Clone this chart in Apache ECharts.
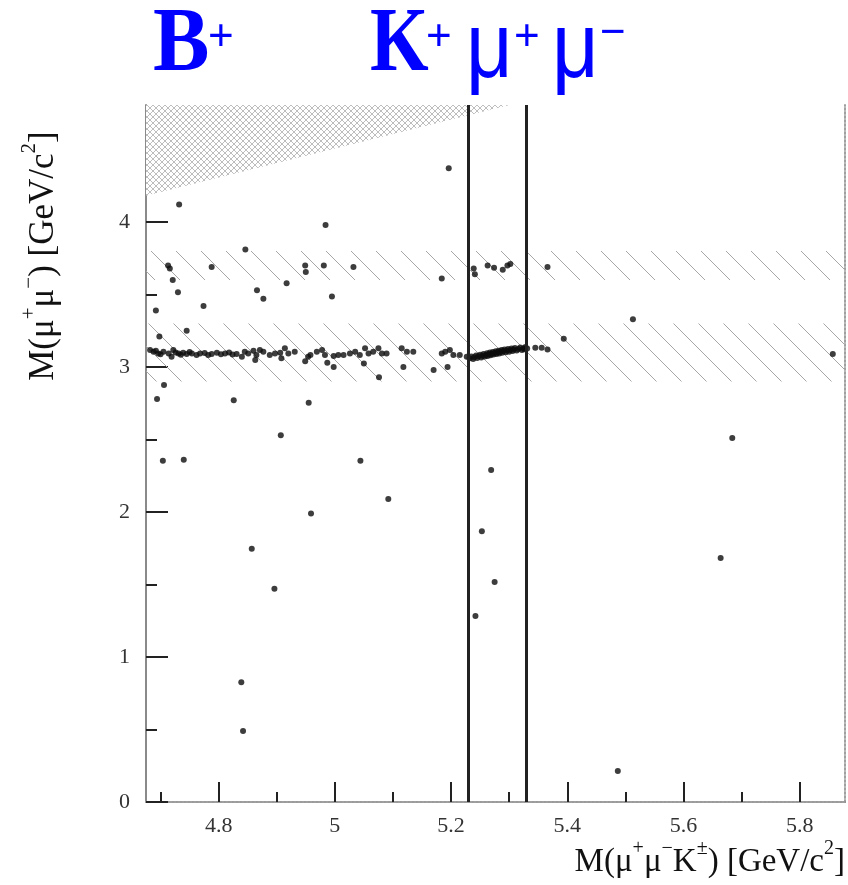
<!DOCTYPE html>
<html><head><meta charset="utf-8">
<script src="https://cdn.jsdelivr.net/npm/echarts@6/dist/echarts.min.js"></script>
<style>html,body{margin:0;padding:0;background:#fff}#c{width:848px;height:885px}</style>
</head><body><div id="c"></div>
<script>
// ---- data ----
const xRange = [4.675, 5.878];
const yRange = [0, 4.807];
const xMajorTicks = [4.8, 5.0, 5.2, 5.4, 5.6, 5.8];
const xMinorTicks = [4.7, 4.9, 5.1, 5.3, 5.5, 5.7];
const yMajorTicks = [0, 1, 2, 3, 4];
const yMinorTicks = [0.5, 1.5, 2.5, 3.5, 4.5];
const signalWindow = [5.23, 5.33];
const jpsiBand = [2.9, 3.3];
const psi2sBand = [3.6, 3.8];
const kaonMass = 0.4937;

const jpsiLineEvents = [
[4.682,3.117],[4.688,3.106],[4.692,3.112],[4.696,3.094],[4.700,3.088],[4.705,3.106],[4.714,3.094],[4.722,3.117],
[4.719,3.071],[4.726,3.100],[4.731,3.094],[4.735,3.085],[4.739,3.099],[4.745,3.090],[4.750,3.104],[4.754,3.094],
[4.762,3.083],[4.768,3.094],[4.776,3.096],[4.782,3.082],[4.788,3.090],[4.797,3.099],[4.804,3.088],[4.811,3.094],
[4.818,3.100],[4.824,3.086],[4.831,3.090],[4.840,3.071],[4.845,3.106],[4.851,3.094],[4.860,3.112],[4.865,3.083],
[4.871,3.117],[4.877,3.106],[4.863,3.048],[4.888,3.083],[4.897,3.094],[4.906,3.099],[4.908,3.060],[4.914,3.129],
[4.920,3.094],[4.931,3.106],[4.954,3.071],[4.958,3.083],[4.969,3.106],[4.978,3.117],[4.983,3.083],[4.998,3.076],
[5.006,3.083],[5.015,3.083],[5.026,3.094],[5.035,3.106],[5.043,3.083],[5.052,3.129],[5.058,3.094],[5.066,3.106],
[5.075,3.129],[5.081,3.094],[5.089,3.094],[5.115,3.129],[5.124,3.106],[5.135,3.106],[5.184,3.094],[5.190,3.106],
[5.198,3.117],[5.204,3.083],[5.215,3.083],[5.227,3.071]
];
const signalClusterEvents = [
[5.232,3.060],[5.235,3.072],[5.238,3.055],[5.240,3.068],[5.243,3.080],[5.245,3.062],[5.247,3.075],[5.250,3.085],
[5.252,3.066],[5.254,3.078],[5.256,3.090],[5.258,3.072],[5.260,3.083],[5.262,3.095],[5.263,3.076],[5.265,3.088],
[5.267,3.100],[5.268,3.081],[5.270,3.092],[5.272,3.104],[5.273,3.086],[5.275,3.097],[5.277,3.109],[5.278,3.090],
[5.280,3.101],[5.282,3.112],[5.283,3.094],[5.285,3.106],[5.287,3.117],[5.288,3.098],[5.290,3.110],[5.292,3.120],
[5.294,3.102],[5.296,3.114],[5.298,3.124],[5.300,3.106],[5.302,3.118],[5.304,3.128],[5.306,3.110],[5.308,3.121],
[5.310,3.131],[5.313,3.114],[5.316,3.125],[5.319,3.134],[5.322,3.118],[5.325,3.129],[5.328,3.138],[5.326,3.122],
[5.331,3.128],[5.345,3.132],[5.356,3.132],[5.366,3.120]
];
const otherEvents = [
[5.196,4.37],[4.732,4.12],[4.984,3.98],[4.846,3.81],[4.713,3.70],[4.716,3.68],[4.721,3.60],[4.730,3.515],
[4.788,3.69],[4.949,3.70],[4.950,3.655],[4.981,3.70],[5.032,3.69],[4.917,3.577],[4.866,3.53],[4.877,3.47],
[4.995,3.487],[4.692,3.39],[4.774,3.42],[4.745,3.25],[4.698,3.21],[5.184,3.61],[5.239,3.68],[5.241,3.64],
[5.263,3.70],[5.274,3.685],[5.289,3.67],[5.297,3.70],[5.302,3.71],[5.366,3.69],[5.513,3.33],[5.394,3.195],
[5.857,3.09],[4.706,2.876],[4.694,2.78],[4.826,2.77],[4.955,2.754],[5.076,2.93],[5.170,2.98],[5.194,3.00],
[5.118,3.00],[4.949,3.04],[4.998,3.00],[4.987,3.03],[5.050,3.025],[4.907,2.53],[4.704,2.354],[4.740,2.36],
[5.044,2.354],[5.092,2.09],[4.959,1.99],[4.857,1.747],[4.896,1.47],[5.242,1.283],[5.253,1.867],[5.269,2.29],
[4.839,0.826],[4.842,0.49],[5.275,1.517],[5.684,2.51],[5.664,1.683],[5.487,0.214]
];

// ---- patterns ----
function diagPattern() {
  const c = document.createElement('canvas'); c.width = 25; c.height = 25;
  const g = c.getContext('2d');
  g.strokeStyle = '#a6a6a6'; g.lineWidth = 1;
  g.beginPath(); g.moveTo(-2, -2); g.lineTo(27, 27); g.stroke();
  return {image: c, repeat: 'repeat'};
}
function crossPattern() {
  const c = document.createElement('canvas'); c.width = 6; c.height = 6;
  const g = c.getContext('2d');
  g.fillStyle = '#ffffff'; g.fillRect(0, 0, 6, 6);
  g.strokeStyle = '#bdbdbd'; g.lineWidth = 1;
  g.beginPath(); g.moveTo(-1, -1); g.lineTo(7, 7); g.moveTo(7, -1); g.lineTo(-1, 7); g.stroke();
  return {image: c, repeat: 'repeat'};
}
const bandFill = diagPattern();
const forbiddenFill = crossPattern();

const serif = 'Liberation Serif';
const axisCommon = {type: 'value', min: xRange[0], max: xRange[1], splitLine: {show: false}};
const labelFmt = v => String(Math.round(v * 10) / 10);

const chart = echarts.init(document.getElementById('c'), null, {renderer: 'canvas'});
const grid = {left: 146, top: 105, width: 699, height: 697};

const titleText = (txt, x, y, size, bold, family, sx) => ({
  type: 'text', x: x, y: y, scaleX: sx || 1,
  style: {text: txt, fontSize: size, fontWeight: bold ? 'bold' : 'normal', fontFamily: family,
          fill: '#0000ff', align: 'left', verticalAlign: 'middle'}
});

const makeRich = (n, s) => ({
  n: {fontSize: n, fontFamily: serif, fill: '#111', lineHeight: Math.round(n * 1.2), verticalAlign: 'bottom'},
  s: {fontSize: s, fontFamily: serif, fill: '#111', lineHeight: s, verticalAlign: 'top'}
});

chart.setOption({
  animation: false,
  backgroundColor: '#fff',
  grid: grid,
  xAxis: [
    Object.assign({}, axisCommon, {
      position: 'bottom',
      axisLine: {show: true, lineStyle: {color: '#8a8a8a', width: 2}},
      axisTick: {show: true, inside: true, length: 20, customValues: xMajorTicks, lineStyle: {color: '#222', width: 2}},
      axisLabel: {show: true, customValues: xMajorTicks, formatter: labelFmt, margin: 13,
                  fontFamily: serif, fontSize: 22, color: '#333'}
    }),
    Object.assign({}, axisCommon, {
      position: 'bottom',
      axisLine: {show: false},
      axisTick: {show: true, inside: true, length: 10, customValues: xMinorTicks, lineStyle: {color: '#222', width: 2}},
      axisLabel: {show: false}
    }),
    Object.assign({}, axisCommon, {
      position: 'top',
      axisLine: {show: true, lineStyle: {color: '#a0a0a0', width: 2, type: 'dotted'}},
      axisTick: {show: false}, axisLabel: {show: false}
    })
  ],
  yAxis: [
    {type: 'value', min: yRange[0], max: yRange[1], position: 'left', splitLine: {show: false},
     axisLine: {show: true, lineStyle: {color: '#8a8a8a', width: 2}},
     axisTick: {show: true, inside: true, length: 22, customValues: yMajorTicks, lineStyle: {color: '#222', width: 2}},
     axisLabel: {show: true, customValues: yMajorTicks, formatter: labelFmt, margin: 16,
                 fontFamily: serif, fontSize: 22, color: '#333'}},
    {type: 'value', min: yRange[0], max: yRange[1], position: 'left', splitLine: {show: false},
     axisLine: {show: false},
     axisTick: {show: true, inside: true, length: 11, customValues: yMinorTicks, lineStyle: {color: '#222', width: 2}},
     axisLabel: {show: false}},
    {type: 'value', min: yRange[0], max: yRange[1], position: 'right', splitLine: {show: false},
     axisLine: {show: true, lineStyle: {color: '#a0a0a0', width: 2, type: 'dotted'}},
     axisTick: {show: false}, axisLabel: {show: false}}
  ],
  graphic: [
    titleText('B', 153, 46, 92, true, serif, 0.92),
    titleText('+', 208, 38, 44, false, 'Liberation Sans'),
    titleText('K', 370, 46, 92, true, serif, 0.82),
    titleText('+', 426, 38, 44, false, 'Liberation Sans'),
    titleText('μ', 466, 52, 92, false, 'Liberation Sans', 0.88),
    titleText('+', 514, 38, 44, false, 'Liberation Sans'),
    titleText('μ', 552, 52, 92, false, 'Liberation Sans', 0.88),
    titleText('−', 600, 34, 44, false, 'Liberation Sans'),
    {type: 'text', x: 845, y: 859,
     style: {text: '{n|M(μ}{s|+}{n|μ}{s|−}{n|K}{s|±}{n|) [GeV/c}{s|2}{n|]}', rich: makeRich(33, 20),
             align: 'right', verticalAlign: 'middle'}},
    {type: 'text', x: 40, y: 256, rotation: Math.PI / 2,
     style: {text: '{n|M(μ}{s|+}{n|μ}{s|−}{n|) [GeV/c}{s|2}{n|]}', rich: makeRich(35, 21),
             align: 'center', verticalAlign: 'middle'}}
  ],
  series: [
    {
      type: 'custom', name: 'forbidden', clip: true, silent: true, z: 1,
      data: [[0]],
      renderItem: function (params, api) {
        const pts = [
          [xRange[0], xRange[0] - kaonMass],
          [yRange[1] + kaonMass, yRange[1]],
          [xRange[0], yRange[1]]
        ].map(p => api.coord(p));
        return {type: 'polygon', shape: {points: pts}, style: {fill: forbiddenFill, stroke: null}};
      }
    },
    {
      type: 'custom', name: 'bands', clip: true, silent: true, z: 1,
      data: [jpsiBand, psi2sBand],
      renderItem: function (params, api) {
        const p0 = api.coord([xRange[0], api.value(1)]);
        const p1 = api.coord([xRange[1], api.value(0)]);
        return {type: 'rect', shape: {x: p0[0], y: p0[1], width: p1[0] - p0[0], height: p1[1] - p0[1]},
                style: {fill: bandFill, stroke: null}};
      }
    },
    {
      type: 'scatter', name: 'events', z: 3,
      symbol: 'circle', symbolSize: 6,
      itemStyle: {color: '#0d0d0d'},
      data: jpsiLineEvents.concat(signalClusterEvents, otherEvents),
      markLine: {
        silent: true, symbol: 'none', label: {show: false},
        lineStyle: {color: '#222', width: 3, type: 'solid'},
        data: signalWindow.map(v => ({xAxis: v}))
      }
    }
  ]
});
</script>
</body></html>
